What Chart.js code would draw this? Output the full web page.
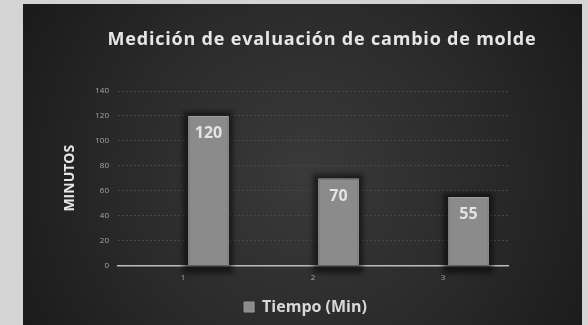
<!DOCTYPE html>
<html>
<head>
<meta charset="utf-8">
<script src="https://cdn.jsdelivr.net/npm/chart.js@4/dist/chart.umd.min.js"></script>
<style>
  html, body { margin: 0; padding: 0; background: #d4d4d4; }
  #wrap { width: 588px; height: 325px; }
</style>
</head>
<body>
<div id="wrap"><canvas id="c" width="588" height="325"></canvas></div>
<script>
// Tiempo de cambio de molde por medición
const categories = ['1', '2', '3'];
const tiempoMin = [120, 70, 55];
const seriesName = 'Tiempo (Min)';
const chartTitle = 'Medición de evaluación de cambio de molde';
const axisTitle = 'MINUTOS';
const yMax = 140;
const yStep = 20;

const FONT = "'Open Sans', 'Noto Sans', sans-serif";

// Dark panel with a soft radial glow behind the chart
const panelBackground = {
  id: 'panelBackground',
  beforeDraw(chart) {
    const ctx = chart.ctx;
    ctx.save();
    ctx.fillStyle = '#d4d4d4';
    ctx.fillRect(0, 0, chart.width, chart.height);
    const x0 = 23, y0 = 4, x1 = 582, y1 = chart.height;
    const g = ctx.createRadialGradient(305, 175, 0, 305, 175, 330);
    g.addColorStop(0, '#3a3a3a');
    g.addColorStop(0.55, '#2a2a2a');
    g.addColorStop(1, '#1a1a1a');
    ctx.fillStyle = g;
    ctx.fillRect(x0, y0, x1 - x0, y1 - y0);
    ctx.restore();
  }
};

// Heading, placed over the plot
const headingText = {
  id: 'headingText',
  afterDraw(chart) {
    const ctx = chart.ctx;
    ctx.save();
    ctx.font = 'bold 18px ' + FONT;
    if ('letterSpacing' in ctx) ctx.letterSpacing = '0.8px';
    ctx.fillStyle = '#e6e6e6';
    ctx.textAlign = 'center';
    ctx.textBaseline = 'alphabetic';
    ctx.fillText(chartTitle, 322, 45);
    ctx.restore();
  }
};

// Soft dark halo around the bars
const barShadow = {
  id: 'barShadow',
  beforeDatasetDraw(chart, args) {
    if (args.index !== 1) return;
    const ctx = chart.ctx;
    const bottom = chart.scales.y.getPixelForValue(0);
    ctx.save();
    ctx.filter = 'blur(2.5px)';
    ctx.fillStyle = 'rgba(0,0,0,0.5)';
    args.meta.data.forEach((bar) => {
      const w = bar.width;
      ctx.fillRect(bar.x - w / 2 - 5, bar.y - 4, w + 9, bottom - bar.y + 12);
    });
    ctx.restore();
  }
};

// Value labels inside the top of each bar
const valueLabels = {
  id: 'valueLabels',
  afterDatasetsDraw(chart) {
    const meta = chart.getDatasetMeta(1);
    const data = chart.data.datasets[1].data;
    const ctx = chart.ctx;
    ctx.save();
    ctx.font = 'bold 16px ' + FONT;
    ctx.fillStyle = '#e4e4e4';
    ctx.textAlign = 'center';
    ctx.textBaseline = 'middle';
    meta.data.forEach((bar, i) => {
      ctx.fillText(String(data[i]), bar.x, bar.y + 18);
    });
    ctx.restore();
  }
};

new Chart(document.getElementById('c'), {
  type: 'bar',
  data: {
    labels: categories,
    datasets: [
      {
        label: '',
        data: categories.map(() => null),
        backgroundColor: 'transparent'
      },
      {
        label: seriesName,
        data: tiempoMin,
        backgroundColor: '#8b8b8b',
        borderColor: '#9c9c9c',
        borderWidth: 1
      }
    ]
  },
  options: {
    responsive: false,
    animation: false,
    devicePixelRatio: 1,
    categoryPercentage: 0.785,
    barPercentage: 0.8,
    layout: { padding: { left: 23, right: 0, top: 91, bottom: 0 } },
    plugins: {
      title: { display: false },
      legend: {
        position: 'bottom',
        labels: {
          color: '#d9d9d9',
          font: { family: FONT, size: 16, weight: 'bold' },
          boxWidth: 10,
          boxHeight: 10,
          padding: 8,
          filter: (item) => item.datasetIndex === 1
        }
      },
      tooltip: { enabled: false }
    },
    scales: {
      x: {
        grid: { display: false, drawTicks: false },
        border: { display: true, color: '#bdbdbd', width: 1.5 },
        ticks: { color: '#a8a8a8', font: { family: FONT, size: 8 }, padding: 8 }
      },
      y: {
        min: 0,
        max: yMax,
        afterFit(scale) { scale.width = 95; },
        grid: {
          drawTicks: false,
          color: (c) => (c.tick && c.tick.value === 0 ? 'transparent' : '#474747'),
          lineWidth: 1
        },
        border: { display: false, dash: [2, 2] },
        ticks: {
          stepSize: yStep,
          color: '#a8a8a8',
          font: { family: FONT, size: 8 },
          padding: 9
        },
        title: {
          display: true,
          text: axisTitle,
          color: '#e6e6e6',
          font: { family: FONT, size: 14, weight: 'bold' },
          padding: { top: 39, bottom: 0 }
        }
      },
      yRight: {
        position: 'right',
        display: true,
        afterFit(scale) { scale.width = 80; },
        grid: { display: false, drawTicks: false },
        border: { display: false },
        ticks: { display: false }
      }
    }
  },
  plugins: [panelBackground, barShadow, valueLabels, headingText]
});
</script>
</body>
</html>
